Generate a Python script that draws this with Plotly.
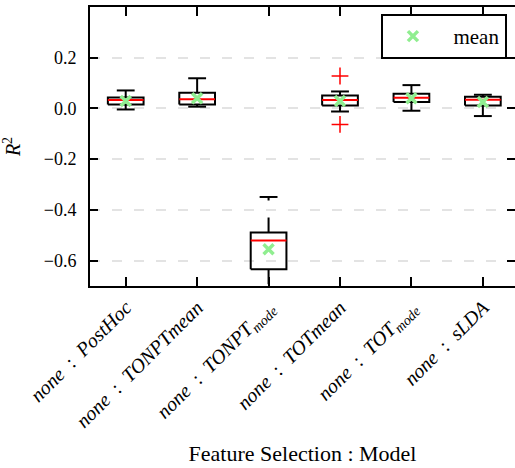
import plotly.graph_objects as go

# ---- data ----
categories = ["PostHoc", "TONPTmean", "TONPTmode", "TOTmean", "TOTmode", "sLDA"]
tick_labels = [
    "<i>none</i>  :  <i>PostHoc</i>",
    "<i>none</i>  :  <i>TONPTmean</i>",
    "<i>none</i>  :  <i>TONPT<sub>mode</sub></i>",
    "<i>none</i>  :  <i>TOTmean</i>",
    "<i>none</i>  :  <i>TOT<sub>mode</sub></i>",
    "<i>none</i>  :  <i>sLDA</i>",
]
whisker_low = [-0.004, 0.007, -0.78, -0.012, -0.009, -0.030]
q1 = [0.016, 0.016, -0.634, 0.012, 0.025, 0.012]
median = [0.033, 0.036, -0.521, 0.033, 0.042, 0.034]
q3 = [0.043, 0.062, -0.489, 0.051, 0.058, 0.046]
whisker_high = [0.071, 0.119, -0.349, 0.067, 0.092, 0.054]
means = [0.029, 0.040, -0.555, 0.029, 0.040, 0.025]
outlier_cat = [4, 4]
outlier_val = [0.128, -0.063]
y_ticks = [-0.6, -0.4, -0.2, 0.0, 0.2]

BOX_W = 0.5
CAP_W = 0.25
FONT = "Liberation Serif, Times New Roman, serif"

pos = list(range(1, len(categories) + 1))

# build paths from data
box_x, box_y = [], []
med_x, med_y = [], []
wh_x, wh_y = [], []
cap_x, cap_y = [], []
for p, lo, a, m, b, hi in zip(pos, whisker_low, q1, median, q3, whisker_high):
    l, r = p - BOX_W / 2, p + BOX_W / 2
    box_x += [l, r, r, l, l, None]
    box_y += [a, a, b, b, a, None]
    med_x += [l, r, None]
    med_y += [m, m, None]
    wh_x += [p, p, None, p, p, None]
    wh_y += [b, hi, None, a, lo, None]
    cl, cr = p - CAP_W / 2, p + CAP_W / 2
    cap_x += [cl, cr, None, cl, cr, None]
    cap_y += [hi, hi, None, lo, lo, None]

fig = go.Figure()
fig.add_trace(go.Scatter(x=wh_x, y=wh_y, mode="lines",
                         line=dict(color="black", width=2, dash="15px,17px"),
                         showlegend=False, hoverinfo="skip"))
fig.add_trace(go.Scatter(x=cap_x, y=cap_y, mode="lines",
                         line=dict(color="black", width=2),
                         showlegend=False, hoverinfo="skip"))
fig.add_trace(go.Scatter(x=box_x, y=box_y, mode="lines",
                         line=dict(color="black", width=2),
                         showlegend=False, hoverinfo="skip"))
fig.add_trace(go.Scatter(x=med_x, y=med_y, mode="lines",
                         line=dict(color="red", width=2),
                         showlegend=False, hoverinfo="skip"))
fig.add_trace(go.Scatter(x=outlier_cat, y=outlier_val, mode="markers",
                         marker=dict(symbol="cross-thin", size=12, color="red",
                                     line=dict(color="red", width=1.5)),
                         showlegend=False))
fig.add_trace(go.Scatter(x=pos, y=means, mode="markers", name="  mean",
                         marker=dict(symbol="x-thin", size=10, color="#90ee90",
                                     line=dict(color="#90ee90", width=3.5))))
# helper trace so the right-side tick axis is drawn
fig.add_trace(go.Scatter(x=[None], y=[None], yaxis="y2", showlegend=False,
                         hoverinfo="skip"))

fig.update_layout(
    width=515, height=468,
    margin=dict(l=90, r=0, t=7, b=182),
    paper_bgcolor="white", plot_bgcolor="white",
    font=dict(family=FONT, color="black", size=18),
    showlegend=True,
    legend=dict(x=0.981, y=0.975, xanchor="right", yanchor="top",
                bordercolor="black", borderwidth=2, bgcolor="white",
                font=dict(family=FONT, size=21), itemwidth=50),
    xaxis=dict(
        range=[0.5, 6.45], tickvals=pos, ticktext=tick_labels,
        tickangle=-45, ticks="inside", ticklen=9, tickwidth=1.5, tickcolor="black",
        showline=True, linewidth=2, linecolor="black", mirror="ticks",
        showgrid=False, zeroline=False,
        tickfont=dict(family=FONT, size=20),
        title=dict(text="Feature Selection : Model", font=dict(family=FONT, size=22)),
    ),
    yaxis=dict(
        range=[-0.7, 0.4], tickvals=y_ticks, tickformat=".1f",
        ticks="inside", ticklen=8, tickwidth=1.5, tickcolor="black",
        showline=True, linewidth=2, linecolor="black", mirror=False,
        showgrid=True, gridcolor="#e3e3e3", griddash="10px,12px", gridwidth=1.5,
        zeroline=False, ticklabelstandoff=8,
        tickfont=dict(family=FONT, size=18),
        title=dict(text="<i>R</i><sup>2</sup>", font=dict(family=FONT, size=20), standoff=22),
    ),
    yaxis2=dict(
        overlaying="y", side="right", matches="y", tickvals=y_ticks,
        ticks="inside", ticklen=8, tickwidth=1.5, tickcolor="black",
        showticklabels=False, showline=False, showgrid=False, zeroline=False,
    ),
)

fig.write_html("out.html", config={"displayModeBar": False},
               post_script="document.body.style.margin='0';")
